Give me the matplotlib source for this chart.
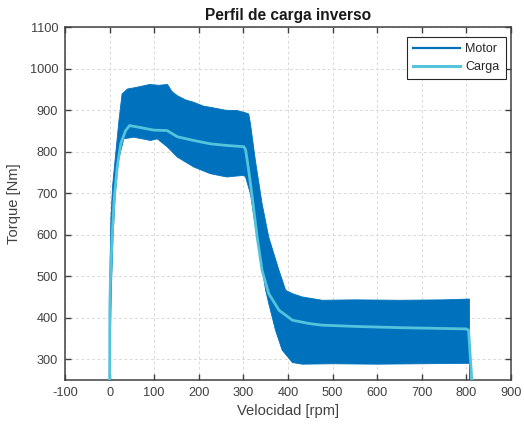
import numpy as np
import matplotlib
import matplotlib.pyplot as plt
from matplotlib.lines import Line2D

matplotlib.use("Agg")
matplotlib.rcParams['font.family'] = ['Liberation Sans', 'DejaVu Sans']
matplotlib.rcParams['axes.unicode_minus'] = False

# ==============================================================================
# Data
# Carga (load torque curve)
carga_rpm = [0, 0.5, 2, 6, 10, 17, 25, 36, 45, 70, 99, 129, 152, 189, 226, 263,
             301, 305, 312, 320, 331, 342, 357, 380, 410, 447, 477, 550, 650,
             750, 800, 805, 813]
carga_nm = [200, 420, 498, 602, 682, 762, 819, 851, 863, 858, 852, 851, 836,
            827, 819, 815, 812, 805, 755, 690, 594, 514, 458, 418, 394, 386,
            382, 379, 376, 374, 373, 370, 240]

# Motor torque oscillates heavily -> upper / lower envelope of the ripple
motor_top_rpm = [0, 3, 7, 13, 21, 28, 40, 60, 90, 110, 130, 140, 152, 170, 189,
                 210, 226, 260, 286, 301, 312, 316, 327, 342, 357, 380, 395,
                 410, 432, 477, 550, 650, 750, 807, 808]
motor_top_nm = [470, 640, 720, 787, 875, 939, 951, 955, 962, 960, 962, 945, 935,
                925, 919, 910, 907, 900, 899, 895, 891, 867, 779, 675, 594, 514,
                466, 458, 450, 442, 443, 442, 443, 445, 240]
motor_bot_rpm = [0, 4, 8, 13, 20, 32, 54, 92, 107, 130, 152, 189, 226, 263, 301,
                 305, 316, 327, 339, 350, 357, 372, 387, 410, 432, 500, 600, 700,
                 800, 807, 808]
motor_bot_nm = [240, 466, 600, 700, 780, 831, 835, 827, 831, 811, 787, 763, 747,
                739, 743, 739, 698, 618, 538, 466, 434, 370, 322, 292, 288, 289,
                288, 289, 290, 290, 240]

x_ticks = np.arange(-100, 901, 100)
y_ticks = np.arange(300, 1101, 100)

# ==============================================================================
def main():
    color_motor = '#0072BD'
    color_carga = '#56C3DC'
    text_color = '#404040'

    fig = plt.figure(figsize=(5.24, 4.25), dpi=100)
    ax = fig.add_axes([0.124, 0.106, 0.851, 0.830])

    # Motor ripple band
    band_x = np.r_[motor_top_rpm, motor_bot_rpm[::-1]]
    band_y = np.r_[motor_top_nm, motor_bot_nm[::-1]]
    ax.fill(band_x, band_y, facecolor=color_motor, edgecolor=color_motor,
            linewidth=0.6, zorder=2)

    # Load curve
    ax.plot(carga_rpm, carga_nm, color=color_carga, linewidth=2.0, zorder=3)

    ax.set_xlim(-100, 900)
    ax.set_ylim(250, 1100)
    ax.set_xticks(x_ticks)
    ax.set_yticks(y_ticks)

    ax.grid(True, color='#d9d9d9', linestyle=(0, (3, 2.5)), linewidth=0.7, zorder=0)
    ax.set_axisbelow(True)
    ax.tick_params(which='both', direction='in', length=4, width=1.0,
                   top=True, right=True, labelsize=9.2, colors=text_color,
                   pad=5)
    for spine in ax.spines.values():
        spine.set_color('#404040')
        spine.set_linewidth(1.1)

    ax.set_title('Perfil de carga inverso', fontsize=11.2, fontweight='bold',
                 color='#1a1a1a', pad=5)
    ax.set_xlabel('Velocidad [rpm]', fontsize=10.6, color=text_color, labelpad=4)
    ax.set_ylabel('Torque [Nm]', fontsize=10.6, color=text_color, labelpad=6)

    handles = [Line2D([], [], color=color_motor, linewidth=1.6),
               Line2D([], [], color=color_carga, linewidth=2.2)]
    leg = ax.legend(handles, ['Motor', 'Carga'], loc='upper right',
                    bbox_to_anchor=(0.989, 0.972), fontsize=9, fancybox=False,
                    framealpha=1, edgecolor='#262626', handlelength=3.8,
                    handletextpad=0.4, borderpad=0.5, labelspacing=0.45,
                    borderaxespad=0)
    leg.get_frame().set_linewidth(0.8)
    for t in leg.get_texts():
        t.set_color('#262626')

    fig.savefig('out.png', dpi=100)


if __name__ == '__main__':
    main()
